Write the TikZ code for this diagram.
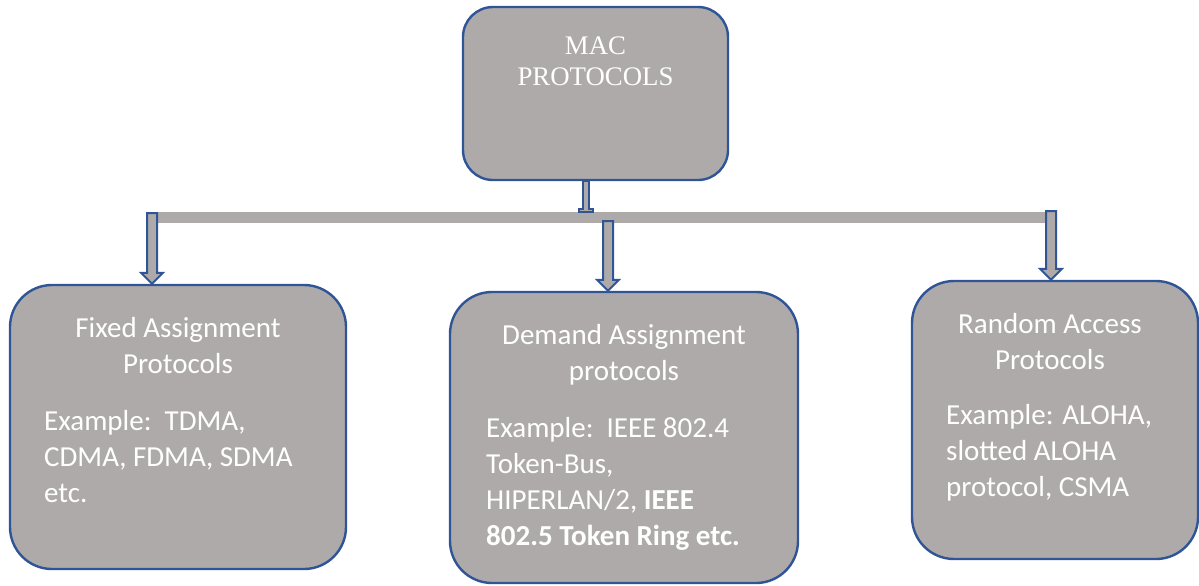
\documentclass[tikz,border=0pt]{standalone}
\usepackage{fontspec}
\setmainfont{Carlito}
\newfontfamily\timesfont{Liberation Serif}
\usetikzlibrary{calc,positioning}

\definecolor{boxgray}{HTML}{AEAAAA}
\definecolor{edgeblue}{HTML}{2F5597}

% block arrow from the bar (#1) down to a box top (#2)
\newcommand{\droparrow}[2]{%
  \draw[blockarrow] ($(#1)+(-5,0)$) -- ($(#2)+(-5,-11)$) -- ($(#2)+(-11,-11)$) -- (#2)
        -- ($(#2)+(11,-11)$) -- ($(#2)+(5,-11)$) -- ($(#1)+(5,0)$) -- cycle;}

\begin{document}
\begin{tikzpicture}[x=0.5pt,y=-0.5pt,
    box/.style={draw=edgeblue,fill=boxgray,line width=1.2pt,rounded corners=21pt},
    blockarrow/.style={draw=edgeblue,fill=boxgray,line width=1pt,line join=miter},
    headtext/.style={text=white,align=center,inner sep=0pt,font=\fontsize{14.5}{18}\selectfont},
    bodytext/.style={text=white,align=left,anchor=west,inner sep=0pt,font=\fontsize{14.5}{18}\selectfont}]
  \useasboundingbox (0,0) rectangle (1199,585);

  \node[box,rounded corners=15pt,minimum width=132.5pt,minimum height=86.5pt] (mac) at (595.5,93.5) {};
  \node[box,minimum width=168pt,minimum height=142pt] (fixed)  at (178,427)   {};
  \node[box,minimum width=174pt,minimum height=145.5pt] (demand) at (624,437.5) {};
  \node[box,minimum width=143pt,minimum height=139pt] (random) at (1055,420)  {};

  % horizontal bus
  \coordinate (barL) at (147,217);
  \coordinate (barR) at (1050,217);
  \draw[line width=5.5pt,draw=boxgray] (barL) -- (barR);

  % stub from the top box
  \coordinate (macTop)  at (mac.south -| 586,0);
  \coordinate (macDrop) at (586,212);
  \draw[blockarrow,line width=0.8pt] ($(macTop)+(-3,0)$) -- ($(macDrop)+(-3,-3)$) -- ($(macDrop)+(-7,-3)$)
        -- ($(macDrop)+(-7,0)$) -- ($(macDrop)+(7,0)$) -- ($(macDrop)+(7,-3)$) -- ($(macDrop)+(3,-3)$)
        -- ($(macTop)+(3,0)$) -- cycle;

  \coordinate (dropA) at (152,213);
  \coordinate (dropB) at (608,221);
  \coordinate (dropC) at (1051,211);
  \coordinate (tipA) at (dropA |- fixed.north);
  \coordinate (tipB) at (dropB |- demand.north);
  \coordinate (tipC) at (dropC |- random.north);
  \droparrow{dropA}{tipA}
  \droparrow{dropB}{tipB}
  \droparrow{dropC}{tipC}

  \node[headtext,font=\fontsize{13.4}{15.5}\timesfont] (macText) at ($(mac.north)+(0,55)$) {MAC\\PROTOCOLS};

  \node[headtext] (fixedHead) at ($(fixed.north)+(0,61.5)$) {Fixed Assignment\\Protocols};
  \node[bodytext] (fixedBody) at ($(fixed.north west)+(35,173)$) {Example:\ \ TDMA,\\CDMA, FDMA, SDMA\\etc.};

  \node[headtext] (demandHead) at ($(demand.north)+(0,63.5)$) {Demand Assignment\\protocols};
  \node[bodytext] (demandBody) at ($(demand.north west)+(37,193)$)
       {Example:\ \ IEEE 802.4\\Token-Bus,\\HIPERLAN/2, \textbf{IEEE}\\\textbf{802.5 Token Ring etc.}};

  \node[headtext] (randomHead) at ($(random.north)+(-5,61.5)$) {Random Access\\Protocols};
  \node[bodytext] (randomBody) at ($(random.north west)+(35,172.5)$) {Example: ALOHA,\\slotted ALOHA\\protocol, CSMA};
\end{tikzpicture}
\end{document}
